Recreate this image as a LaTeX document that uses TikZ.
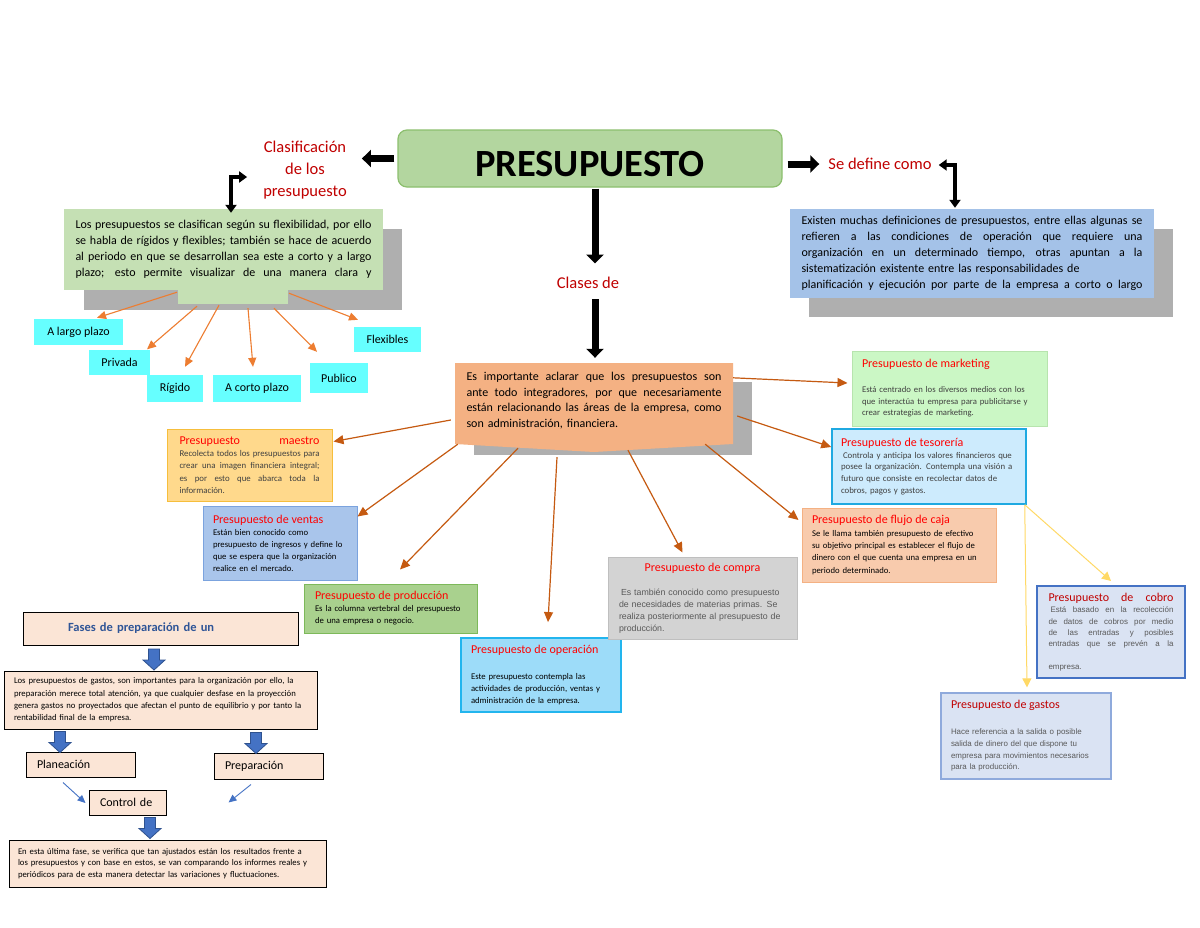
\documentclass[tikz,border=0pt]{standalone}
\usepackage{fontspec}
\setmainfont{Carlito}
\newfontfamily\arialfont{Liberation Sans}
\usepackage{tikz}
\usetikzlibrary{arrows.meta,calc,positioning}

\definecolor{presgreen}{HTML}{B3D69F}
\definecolor{presedge}{HTML}{8CBF6E}
\definecolor{clsgreen}{HTML}{C5E0B4}
\definecolor{shadowgray}{HTML}{AFAFAF}
\definecolor{defblue}{HTML}{A4C2E8}
\definecolor{impfill}{HTML}{F4B183}
\definecolor{tabcyan}{HTML}{66FFFF}
\definecolor{lightorange}{HTML}{ED7D31}
\definecolor{darkorange}{HTML}{C55A11}
\definecolor{yellowline}{HTML}{FFD966}
\definecolor{titlered}{HTML}{C00000}
\definecolor{boxred}{HTML}{FF0000}
\definecolor{bodygray}{HTML}{404040}
\definecolor{arialgray}{HTML}{595959}
\definecolor{maestrofill}{HTML}{FFD98C}
\definecolor{maestroedge}{HTML}{F6BE3C}
\definecolor{ventasfill}{HTML}{A9C5EB}
\definecolor{ventasedge}{HTML}{7BA3DE}
\definecolor{prodfill}{HTML}{A9D18E}
\definecolor{prodedge}{HTML}{7DB95A}
\definecolor{operfill}{HTML}{9DDCF9}
\definecolor{operedge}{HTML}{22B5EE}
\definecolor{comprafill}{HTML}{D3D3D3}
\definecolor{compraedge}{HTML}{BFBFBF}
\definecolor{flujofill}{HTML}{F8CBAD}
\definecolor{flujoedge}{HTML}{F4B183}
\definecolor{mktfill}{HTML}{CBF7C5}
\definecolor{mktedge}{HTML}{B7E4AE}
\definecolor{tesfill}{HTML}{CDEBFD}
\definecolor{tesedge}{HTML}{1FA9E1}
\definecolor{cobrofill}{HTML}{DAE3F3}
\definecolor{cobroedge}{HTML}{4472C4}
\definecolor{gastosedge}{HTML}{8FAADC}
\definecolor{fasefill}{HTML}{FBE5D6}
\definecolor{fasetitle}{HTML}{2F5597}
\definecolor{blockblue}{HTML}{4472C4}
\definecolor{blockedge}{HTML}{2F528F}

% a line stretched to the full text width
\newcommand{\jl}[1]{\leavevmode\hbox to \hsize{\spaceskip=0.226em plus 1fil\xspaceskip=0.226em plus 1fil\relax #1}}
\newcommand{\ktitle}[2][boxred]{{\normalfont\color{#1}\fontsize{12}{14}\selectfont #2}}
\newcommand{\blockarrow}[1]{\filldraw[barrow, shift={(#1)}] (-5.5,0) -- (5.5,0) -- (5.5,11) -- (11,11) -- (0,21) -- (-11,11) -- (-5.5,11) -- cycle;}

\tikzset{
	blk/.style={line width=7pt, -{Triangle[length=9pt,width=17pt]}},
	elbow/.style={line width=4.5pt, {Triangle[length=8pt,width=11pt]}-{Triangle[length=8pt,width=11pt]}},
	redtitle/.style={text=titlered, inner sep=0pt, font=\fontsize{16.5}{22}\selectfont},
	cyanbox/.style={fill=tabcyan, inner sep=0pt, font=\fontsize{12}{14}\selectfont},
	kindbox/.style={rectangle, align=left, inner ysep=0pt, line width=1pt, font=\fontsize{8.7}{12}\selectfont},
	phasebox/.style={draw=black, fill=fasefill, line width=1pt, align=left, inner ysep=0pt},
	oarr/.style={draw=lightorange, line width=1.1pt, -{Triangle[length=9pt,width=8pt]}},
	darr/.style={draw=darkorange, line width=1.2pt, -{Triangle[length=10pt,width=9pt]}},
	yarr/.style={draw=yellowline, line width=1pt, -{Triangle[length=9pt,width=9pt]}},
	barr/.style={draw=blockblue, line width=0.9pt, -{Triangle[length=8pt,width=7pt]}},
	barrow/.style={fill=blockblue, draw=blockedge, line width=0.8pt}
}

\begin{document}
\begin{tikzpicture}[x=1pt, y=-1pt]
	\useasboundingbox (0,0) rectangle (1200,927);
	\fill[white] (0,0) rectangle (1200,927);

	% shadows behind the text boxes
	\fill[shadowgray] (84,229) rectangle (402,310);
	\fill[shadowgray] (809,229) rectangle (1173,317);
	\fill[shadowgray] (474,382) rectangle (752,455);

	% title row
	\node[draw=presedge, fill=presgreen, line width=1.2pt, rounded corners=9pt, minimum width=384, minimum height=57, text height=36pt, text depth=0pt, font=\fontsize{38.5}{40}\selectfont\bfseries] (pres) at (590,158.5) {PRESUPUESTO};
	\node[redtitle, align=center] (clas) at (305,170) {Clasificación\\de los\\presupuesto};
	\node[redtitle] (def) at (880,164) {Se define como};
	\node[redtitle] (clases) at (588,282.5) {Clases de};

	% classification
	\node[fill=clsgreen, minimum width=319, minimum height=81, text width=296, inner xsep=11.5, inner ysep=0pt, align=left, font=\fontsize{12}{16}\selectfont] (cls) at (223.5,249.5) {\jl{Los presupuestos se clasifican según su flexibilidad, por ello}\\\jl{se habla de rígidos y flexibles; también se hace de acuerdo}\\\jl{al periodo en que se desarrollan sea este a corto y a largo}\\\jl{plazo; esto permite visualizar de una manera clara y}};
	\fill[clsgreen] (178,289) rectangle (288,304);

	% definition
	\node[fill=defblue, minimum width=364, minimum height=89, text width=341, inner xsep=11.5, inner ysep=0pt, align=left, font=\fontsize{12}{16}\selectfont] (defbox) at (972,253.5) {\jl{Existen muchas definiciones de presupuestos, entre ellas algunas se}\\\jl{refieren a las condiciones de operación que requiere una}\\\jl{organización en un determinado tiempo, otras apuntan a la}\\sistematización existente entre las responsabilidades de\\\jl{planificación y ejecución por parte de la empresa a corto o largo}};

	% classes
	\fill[impfill] (455,363) -- (733,363) -- (733,444) -- (594,452) -- (455,444) -- cycle;
	\node[minimum width=278, minimum height=75, text width=255, inner xsep=11.5, inner ysep=0pt, align=left, font=\fontsize{12}{15.7}\selectfont] (imp) at (594,400.5) {\jl{Es importante aclarar que los presupuestos son}\\\jl{ante todo integradores, por que necesariamente}\\\jl{están relacionando las áreas de la empresa, como}\\son administración, financiera.};

	\node[cyanbox, minimum width=89, minimum height=26] (largo) at (78.5,332) {A largo plazo};
	\node[cyanbox, minimum width=61, minimum height=25] (privada) at (119.5,362.5) {Privada};
	\node[cyanbox, minimum width=56, minimum height=27] (rigido) at (175,388.5) {Rígido};
	\node[cyanbox, minimum width=88, minimum height=27] (corto) at (257,388.5) {A corto plazo};
	\node[cyanbox, minimum width=58, minimum height=30] (publico) at (339,378) {Publico};
	\node[cyanbox, minimum width=67, minimum height=25] (flex) at (387.5,339.5) {Flexibles};

	% kinds of budget
	\node[kindbox, fill=maestrofill, draw=maestroedge, minimum width=165, minimum height=72, text width=140, inner xsep=12.5, text=bodygray, font=\fontsize{8.8}{12.3}\selectfont] (maestro) at (249.5,465) {\ktitle{\jl{Presupuesto maestro}}\\\jl{Recolecta todos los presupuestos para}\\\jl{crear una imagen financiera integral;}\\\jl{es por esto que abarca toda la}\\información.};
	\node[kindbox, fill=ventasfill, draw=ventasedge, minimum width=154, minimum height=74, text width=134, inner xsep=10] (ventas) at (280,543) {\ktitle{Presupuesto de ventas}\\Están bien conocido como\\presupuesto de ingresos y define lo\\que se espera que la organización\\realice en el mercado.};
	\node[kindbox, fill=prodfill, draw=prodedge, minimum width=173, minimum height=49, text width=151, inner xsep=11] (prod) at (390.5,608.5) {\ktitle{Presupuesto de producción}\\Es la columna vertebral del presupuesto\\de una empresa o negocio.};
	\node[kindbox, fill=operfill, draw=operedge, line width=1.8pt, minimum width=160, minimum height=74, text width=140, inner xsep=10] (oper) at (541,675) {\ktitle{Presupuesto de operación}\\[14pt]Este presupuesto contempla las\\actividades de producción, ventas y\\administración de la empresa.};
	\node[kindbox, fill=comprafill, draw=compraedge, minimum width=189, minimum height=82, text width=167, inner xsep=11, text=arialgray, font=\arialfont\fontsize{8.8}{12}\selectfont] (compra) at (702.5,598) {\ktitle{\makebox[\hsize]{Presupuesto de compra}}\\[12pt]\hspace{2pt}Es también conocido como presupuesto\\de necesidades de materias primas. Se\\realiza posteriormente al presupuesto de\\producción.};
	\node[kindbox, fill=flujofill, draw=flujoedge, minimum width=194, minimum height=74, text width=174, inner xsep=10, font=\fontsize{8.7}{12.3}\selectfont] (flujo) at (899,545) {\ktitle{Presupuesto de flujo de caja}\\Se le llama también presupuesto de efectivo\\su objetivo principal es establecer el flujo de\\dinero con el que cuenta una empresa en un\\periodo determinado.};
	\node[kindbox, fill=mktfill, draw=mktedge, minimum width=195, minimum height=75, text width=175, inner xsep=10, text=bodygray, font=\fontsize{8.7}{11.7}\selectfont] (mkt) at (949.5,388.5) {\ktitle{Presupuesto de marketing}\\[13pt]Está centrado en los diversos medios con los\\que interactúa tu empresa para publicitarse y\\crear estrategias de marketing.};
	\node[kindbox, fill=tesfill, draw=tesedge, line width=1.5pt, minimum width=194, minimum height=75, text width=176, inner xsep=9, text=bodygray, font=\fontsize{8.8}{11.7}\selectfont] (tes) at (929,466.5) {\ktitle{Presupuesto de tesorería}\\\hspace{2pt}Controla y anticipa los valores financieros que\\posee la organización. Contempla una visión a\\futuro que consiste en recolectar datos de\\cobros, pagos y gastos.};
	\node[kindbox, fill=cobrofill, draw=cobroedge, line width=2pt, minimum width=148, minimum height=92, text width=125, inner xsep=11.5, text=arialgray, font=\arialfont\fontsize{7.95}{11.3}\selectfont] (cobro) at (1111,632) {\ktitle[titlered]{\jl{Presupuesto de cobro}}\\\jl{\hspace{2pt}Está basado en la recolección}\\\jl{de datos de cobros por medio}\\\jl{de las entradas y posibles}\\\jl{entradas que se prevén a la}\\[11.3pt]empresa.};
	\node[kindbox, fill=cobrofill, draw=gastosedge, line width=1.2pt, minimum width=170, minimum height=86, text width=150, inner xsep=10, text=arialgray, font=\arialfont\fontsize{7.95}{11.7}\selectfont] (gastos) at (1026,736) {\ktitle[titlered]{Presupuesto de gastos}\\[14pt]Hace referencia a la salida o posible\\salida de dinero del que dispone tu\\empresa para movimientos necesarios\\para la producción.};

	% phases
	\node[phasebox, minimum width=275, minimum height=33, text width=185, inner xsep=45, text=fasetitle, font=\fontsize{12.5}{15}\selectfont\bfseries] (fases) at (160.5,628.5) {Fases de preparación de un};
	\node[phasebox, minimum width=313, minimum height=58, text width=293, inner xsep=10, font=\fontsize{8.7}{12.3}\selectfont] (gtext) at (160.5,700) {Los presupuestos de gastos, son importantes para la organización por ello, la\\preparación merece total atención, ya que cualquier desfase en la proyección\\genera gastos no proyectados que afectan el punto de equilibrio y por tanto la\\rentabilidad final de la empresa.};
	\node[phasebox, minimum width=109, minimum height=25, text width=87, inner xsep=11, font=\fontsize{12}{14}\selectfont] (plan) at (80.5,764.5) {Planeación};
	\node[phasebox, minimum width=109, minimum height=26, text width=87, inner xsep=11, font=\fontsize{12}{14}\selectfont] (prep) at (268.5,766) {Preparación};
	\node[phasebox, minimum width=77, minimum height=25, text width=55, inner xsep=11, font=\fontsize{12}{14}\selectfont] (control) at (127.5,802.5) {Control de};
	\node[phasebox, minimum width=317, minimum height=47, text width=299, inner xsep=9, font=\fontsize{8.7}{11.7}\selectfont] (final) at (167.5,863.5) {En esta última fase, se verifica que tan ajustados están los resultados frente a\\los presupuestos y con base en estos, se van comparando los informes reales y\\periódicos para de esta manera detectar las variaciones y fluctuaciones.};

	% black arrows
	\draw[blk] ($(pres.west)+(-3,0)$) -- ($(pres.west -| clas.east)+(15,0)$);
	\draw[blk] ($(pres.east |- def.west)+(5,0)$) -- ($(def.west)+(-9,0)$);
	\draw[blk] ($(pres.south)+(5,1)$) -- ($(clases.north)+(7,-13)$);
	\draw[blk] ($(clases.south)+(7,11)$) -- ($(imp.north)+(1,-5)$);
	\draw[elbow] ($(clas.west)+(-16,7)$) -| ($(cls.north)+(7.5,4)$);
	\draw[elbow] ($(def.east)+(7,1)$) -| ($(defbox.north)+(-17,-1)$);

	% classification arrows
	\draw[oarr] ($(cls.south)+(-46.5,2)$) -- ($(largo.north)+(18.5,-1)$);
	\draw[oarr] ($(cls.south)+(-26.5,16)$) -- ($(privada.north)+(27.5,-0.5)$);
	\draw[oarr] ($(cls.south)+(-4.5,15)$) -- ($(rigido.north)+(10,-8)$);
	\draw[oarr] ($(cls.south)+(24.5,18)$) -- ($(corto.north)+(-4,-8)$);
	\draw[oarr] ($(cls.south)+(50.5,18)$) -- ($(publico.north)+(-22,-11)$);
	\draw[oarr] ($(cls.south)+(65.5,3)$) -- ($(flex.north)+(-29.5,-7)$);

	% classes arrows
	\draw[darr] ($(imp.west)+(-4,19.5)$) -- ($(maestro.north east)+(1,13)$);
	\draw[darr] ($(imp.north east)+(0,15)$) -- ($(mkt.west)+(-4,-5.5)$);
	\draw[darr] ($(imp.east)+(4,15.5)$) -- ($(tes.west)+(0,-19.5)$);
	\draw[darr] ($(imp.south west)+(3,6)$) -- ($(ventas.north east)+(0,11)$);
	\draw[darr] ($(imp.south)+(-76,10)$) -- ($(prod.north)+(9.5,-14)$);
	\draw[darr] ($(imp.south)+(-37,19)$) -- ($(oper.north)+(7,-15)$);
	\draw[darr] ($(imp.south)+(34,12)$) -- ($(compra.north)+(-20,-4)$);
	\draw[darr] ($(imp.south east)+(-28,6)$) -- ($(flujo.west)+(-3,-25)$);
	\draw[yarr] ($(tes.south east)+(-2,0)$) -- ($(cobro.north)+(0,-4)$);
	\draw[yarr] ($(tes.south east)+(-2,0)$) -- ($(gastos.north)+(1,-5)$);

	% phase arrows
	\blockarrow{$(fases.south)+(-6.5,3.5)$}
	\blockarrow{$(plan.north)+(-20.5,-20)$}
	\blockarrow{$(prep.north)+(-12.5,-20)$}
	\blockarrow{$(final.north)+(-17.5,-22)$}
	\draw[barr] ($(plan.south)+(-17.5,5)$) -- ($(control.west)+(-3,0.5)$);
	\draw[barr] ($(prep.south)+(-17.5,5)$) -- ($(control.east)+(62,0)$);
\end{tikzpicture}
\end{document}
